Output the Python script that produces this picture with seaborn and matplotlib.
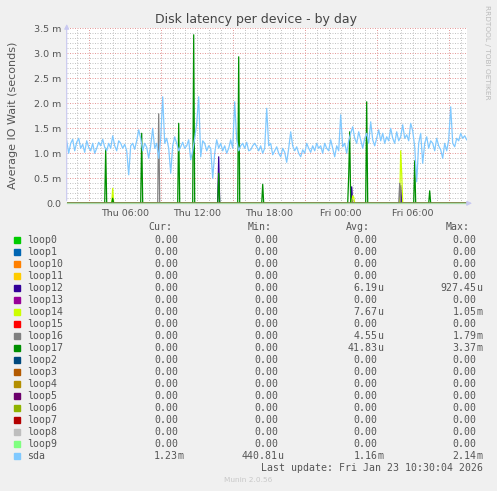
import numpy as np
import pandas as pd
import seaborn as sns
import matplotlib.pyplot as plt

# time axis: hours since Thu 00:00, 5 minute steps, 400 samples ending Fri 10:30
T0 = 34.5 - 400 * 5 / 60
N = 400

# sda average wait (ms), read every 10 minutes
sda_ms = [
    1.25, 1.0, 1.2, 1.28, 1.05, 1.22, 1.3, 1.1, 1.18, 1.02,
    1.25, 1.12, 1.05, 1.2, 1.0, 1.1, 1.22, 1.15, 1.28, 1.12,
    1.05, 1.2, 1.1, 1.35, 1.15, 1.05, 1.25, 1.2, 1.1, 1.18,
    1.05, 0.57, 1.15, 1.2, 1.08, 1.25, 1.47, 1.3, 1.05, 1.2,
    1.12, 0.9, 1.15, 1.5, 1.1, 1.2, 0.9, 1.3, 2.13, 1.2,
    1.3, 1.1, 0.6, 1.15, 1.33, 1.2, 1.05, 1.13, 1.22, 1.1,
    1.15, 1.27, 0.87, 1.05, 1.3, 1.6, 2.13, 0.93, 1.25, 1.2,
    1.05, 1.15, 1.1, 0.5, 1.0, 1.27, 1.1, 1.2, 1.05, 1.15,
    1.0, 1.1, 1.27, 1.1, 2.03, 1.27, 1.05, 1.15, 1.2, 1.1,
    1.22, 1.05, 1.07, 1.15, 1.2, 1.13, 1.05, 1.15, 1.0, 1.1,
    1.9, 1.15, 1.2, 0.97, 1.05, 1.13, 1.0, 0.93, 1.1, 1.02,
    0.82, 1.1, 1.43, 1.15, 1.05, 1.13, 1.0, 0.93, 1.07, 1.0,
    1.2, 1.1, 1.02, 1.15, 1.05, 1.2, 1.1, 1.15, 1.0, 1.2,
    1.1, 1.05, 1.27, 1.1, 0.93, 1.15, 1.05, 1.77, 1.13, 1.2,
    1.0, 1.25, 1.4, 1.53, 1.3, 1.2, 1.43, 1.27, 1.1, 1.3,
    1.4, 1.2, 1.63, 1.27, 1.15, 1.3, 1.47, 1.25, 1.4, 1.2,
    1.33, 1.25, 1.5, 1.3, 1.2, 1.43, 1.25, 1.33, 1.57, 1.3,
    1.37, 1.25, 1.6, 1.45, 1.13, 0.43, 1.2, 1.4, 0.8, 1.2,
    1.33, 1.1, 1.25, 1.2, 1.05, 1.3, 1.15, 1.07, 0.9, 1.2,
    1.05, 1.27, 1.93, 1.2, 1.13, 1.3, 1.25, 1.4, 1.3, 1.35,
    1.27,
]

# loop device spikes: sample index (5 min) and value (ms)
loop12_idx = [152, 285, 334]
loop12_ms = [0.93, 0.33, 0.35]
loop14_idx = [46, 286, 287, 334, 335]
loop14_ms = [0.3, 0.15, 0.12, 1.05, 0.6]
loop16_idx = [92, 333]
loop16_ms = [1.79, 0.4]
loop17_idx = [39, 46, 75, 112, 127, 152, 172, 196, 282, 283, 300, 348, 363]
loop17_ms = [1.1, 0.1, 1.4, 1.6, 3.37, 0.6, 2.93, 0.38, 0.55, 1.43, 2.03, 0.85, 0.25]

devices = ["loop0", "loop1", "loop10", "loop11", "loop12", "loop13", "loop14",
           "loop15", "loop16", "loop17", "loop2", "loop3", "loop4", "loop5",
           "loop6", "loop7", "loop8", "loop9", "sda"]
colors = ["#00CC00", "#0066B3", "#FF8000", "#FFCC00", "#330099", "#990099",
          "#CCFF00", "#FF0000", "#808080", "#008F00", "#00487D", "#B35A00",
          "#B38F00", "#6B006B", "#8FB300", "#B30000", "#BEBEBE", "#80FF80",
          "#80C9FF"]
cur = ["0.00"] * 18 + ["1.23m"]
mins = ["0.00"] * 18 + ["440.81u"]
avgs = ["0.00", "0.00", "0.00", "0.00", "6.19u", "0.00", "7.67u", "0.00",
        "4.55u", "41.83u", "0.00", "0.00", "0.00", "0.00", "0.00", "0.00",
        "0.00", "0.00", "1.16m"]
maxs = ["0.00", "0.00", "0.00", "0.00", "927.45u", "0.00", "1.05m", "0.00",
        "1.79m", "3.37m", "0.00", "0.00", "0.00", "0.00", "0.00", "0.00",
        "0.00", "0.00", "2.14m"]

spikes = {"loop12": (loop12_idx, loop12_ms), "loop14": (loop14_idx, loop14_ms),
          "loop16": (loop16_idx, loop16_ms), "loop17": (loop17_idx, loop17_ms)}

# build long-form table
t5 = T0 + np.arange(N) * 5 / 60
frames = []
for dev in devices[:-1]:
    v = np.zeros(N)
    if dev in spikes:
        idx, val = spikes[dev]
        v[idx] = val
    frames.append(pd.DataFrame({"t": t5, "v": v, "dev": dev}))
t10 = T0 + np.arange(len(sda_ms)) * 10 / 60
frames.append(pd.DataFrame({"t": t10, "v": sda_ms, "dev": "sda"}))
df = pd.concat(frames, ignore_index=True)

BG = "#f0f0f0"
TXT = "#555555"
W, H = 497, 491
fig = plt.figure(figsize=(W / 100, H / 100), dpi=100, facecolor=BG)
ax = fig.add_axes([66.7 / W, 1 - 203.3 / H, 400 / W, 175 / H])
ax.set_facecolor("white")

# grid
dots = (0, (1, 1.5))
for h in np.arange(2, 35):
    major = (h - 3) % 6 == 0
    ax.axvline(h, color="#e49a9a" if major else "#c4c4c4", lw=0.72,
               ls=dots, zorder=0)
for y in np.arange(0.1, 3.51, 0.1):
    major = abs(y / 0.5 - round(y / 0.5)) < 1e-6
    ax.axhline(y, color="#e49a9a" if major else "#c4c4c4", lw=0.72,
               ls=dots, zorder=0)

# draw each device in legend order so sda ends on top
for k, (dev, col) in enumerate(zip(devices, colors)):
    n_before = len(ax.lines)
    sns.lineplot(data=df[df["dev"] == dev], x="t", y="v", color=col,
                 estimator=None, sort=False, linewidth=0.9, ax=ax)
    for line in ax.lines[n_before:]:
        line.set_zorder(2 + k * 0.01)

# pale baseline where all the idle loop devices sit (above loops, below sda)
ax.axhline(0, color="#a8dca8", lw=0.9, clip_on=False, zorder=2.175)

ax.set_xlim(T0, T0 + N * 5 / 60)
ax.set_ylim(0, 3.5)
for s in ax.spines.values():
    s.set_visible(False)
ax.set_xticks([6, 12, 18, 24, 30])
ax.set_xticklabels(["Thu 06:00", "Thu 12:00", "Thu 18:00", "Fri 00:00", "Fri 06:00"])
ax.set_yticks(np.arange(0, 3.51, 0.5))
ax.set_yticklabels(["0.0"] + [f"{v:.1f} m" for v in np.arange(0.5, 3.51, 0.5)])
ax.tick_params(length=0, labelsize=6.8, colors=TXT, pad=4)
ax.set_xlabel("")
ax.set_ylabel("Average IO Wait (seconds)", fontsize=8, color=TXT, labelpad=11)

# axis lines with arrows
ax.annotate("", xy=(0, 1.04), xytext=(0, 0), xycoords="axes fraction",
            arrowprops=dict(arrowstyle="-|>", color="#c8c8f0", lw=0.8,
                            mutation_scale=7), annotation_clip=False)
ax.annotate("", xy=(1.02, 0), xytext=(1.0, 0), xycoords="axes fraction",
            arrowprops=dict(arrowstyle="-|>", color="#c8c8f0", lw=0.8,
                            mutation_scale=7), annotation_clip=False)

fig.text(256 / W, 1 - 19 / H, "Disk latency per device - by day",
         ha="center", va="center", fontsize=9, color="#444444")
fig.text(487 / W, 1 - 5 / H, "RRDTOOL / TOBI OETIKER", rotation=270,
         ha="center", va="top", fontsize=5.3, color="#bbbbbb")

# legend table
mono = dict(family="DejaVu Sans Mono", fontsize=7.1, color=TXT, va="center")
hy = 227.3
for x, lab in [(160, "Cur:"), (260, "Min:"), (358, "Avg:"), (458, "Max:")]:
    fig.text(x / W, 1 - hy / H, lab, ha="center", **mono)
for i, dev in enumerate(devices):
    y = 239.7 + i * 12
    fig.patches.append(plt.Rectangle((14 / W, 1 - (y + 3) / H), 6 / W, 6 / H,
                                     transform=fig.transFigure,
                                     color=colors[i], figure=fig))
    fig.text(26.7 / W, 1 - y / H, dev, ha="left", **mono)
    for xr, val in [(178, cur[i]), (278, mins[i]), (377.7, avgs[i]), (476.7, maxs[i])]:
        num = val.rstrip("umk")
        unit = val[len(num):]
        fig.text(xr / W, 1 - y / H, num, ha="right", **mono)
        if unit:
            fig.text(xr / W, 1 - y / H, unit, ha="left", **mono)
fig.text(482.7 / W, 1 - 467.7 / H, "Last update: Fri Jan 23 10:30:04 2026",
         ha="right", **mono)
fig.text(248 / W, 1 - 480 / H, "Munin 2.0.56", ha="center", va="center",
         fontsize=5.3, color="#c8c8c8")

fig.savefig("out.png", dpi=100, facecolor=BG)
